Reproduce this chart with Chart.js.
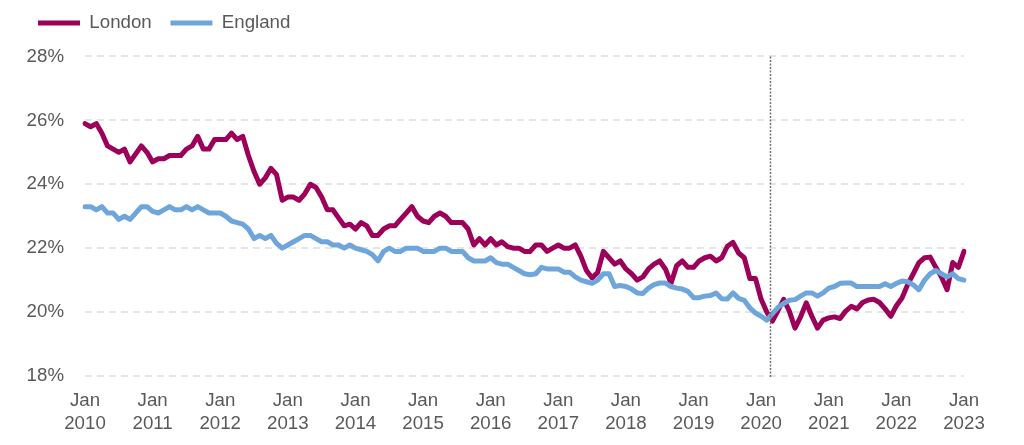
<!DOCTYPE html>
<html>
<head>
<meta charset="utf-8">
<script src="https://cdn.jsdelivr.net/npm/chart.js@4"></script>
<style>
  html, body { margin: 0; padding: 0; background: #ffffff; }
  #c { display: block; }
</style>
</head>
<body>
<canvas id="c" width="1024" height="445" style="width:1024px;height:445px"></canvas>
<script>
// ---- Data ----
const years = [2010, 2011, 2012, 2013, 2014, 2015, 2016, 2017, 2018, 2019, 2020, 2021, 2022, 2023];
const months = ['Jan','Feb','Mar','Apr','May','Jun','Jul','Aug','Sep','Oct','Nov','Dec'];

const london = [
  25.9, 25.8, 25.9, 25.6, 25.2, 25.1, 25.0, 25.1, 24.7, 24.95, 25.2, 25.0,   // 2010
  24.7, 24.8, 24.8, 24.9, 24.9, 24.9, 25.1, 25.2, 25.5, 25.1, 25.1, 25.4,    // 2011
  25.4, 25.4, 25.6, 25.4, 25.5, 24.9, 24.4, 24.0, 24.2, 24.5, 24.3, 23.5,    // 2012
  23.6, 23.6, 23.5, 23.7, 24.0, 23.9, 23.6, 23.2, 23.2, 22.95, 22.7, 22.75,  // 2013
  22.6, 22.8, 22.7, 22.4, 22.4, 22.6, 22.7, 22.7, 22.9, 23.1, 23.3, 23.0,    // 2014
  22.85, 22.8, 23.0, 23.1, 23.0, 22.8, 22.8, 22.8, 22.6, 22.1, 22.3, 22.1,   // 2015
  22.3, 22.1, 22.2, 22.05, 22.0, 22.0, 21.9, 21.9, 22.1, 22.1, 21.9, 22.0,   // 2016
  22.1, 22.0, 22.0, 22.1, 21.75, 21.3, 21.07, 21.25, 21.9, 21.7, 21.5, 21.6, // 2017
  21.35, 21.2, 21.0, 21.1, 21.35, 21.5, 21.6, 21.35, 20.9, 21.45, 21.6, 21.4,// 2018
  21.4, 21.6, 21.7, 21.75, 21.6, 21.7, 22.06, 22.18, 21.85, 21.7, 21.05, 21.05, // 2019
  20.4, 20.0, 19.72, 20.05, 20.4, 20.03, 19.5, 19.85, 20.29, 19.87, 19.5, 19.75, // 2020
  19.82, 19.85, 19.8, 20.03, 20.18, 20.1, 20.3, 20.38, 20.4, 20.3, 20.1, 19.87,  // 2021
  20.2, 20.44, 20.86, 21.2, 21.55, 21.7, 21.72, 21.4, 21.1, 20.7, 21.55, 21.4,   // 2022
  21.9                                                                          // 2023
];

const england = [
  23.3, 23.3, 23.2, 23.3, 23.1, 23.1, 22.9, 23.0, 22.9, 23.1, 23.3, 23.3,    // 2010
  23.15, 23.1, 23.2, 23.3, 23.2, 23.2, 23.3, 23.2, 23.3, 23.2, 23.1, 23.1,   // 2011
  23.1, 23.0, 22.85, 22.8, 22.75, 22.6, 22.3, 22.4, 22.3, 22.4, 22.15, 22.0, // 2012
  22.1, 22.2, 22.3, 22.4, 22.4, 22.3, 22.2, 22.2, 22.1, 22.1, 22.0, 22.1,    // 2013
  22.0, 21.95, 21.9, 21.8, 21.6, 21.9, 22.0, 21.9, 21.9, 22.0, 22.0, 22.0,   // 2014
  21.9, 21.9, 21.9, 22.0, 22.0, 21.9, 21.9, 21.9, 21.7, 21.6, 21.6, 21.6,    // 2015
  21.7, 21.55, 21.5, 21.5, 21.4, 21.3, 21.2, 21.17, 21.2, 21.4, 21.35, 21.35,// 2016
  21.35, 21.25, 21.25, 21.1, 21.0, 20.95, 20.9, 21.0, 21.2, 21.2, 20.8, 20.83, // 2017
  20.8, 20.72, 20.6, 20.58, 20.75, 20.86, 20.91, 20.91, 20.8, 20.75, 20.72, 20.65, // 2018
  20.45, 20.45, 20.5, 20.52, 20.6, 20.42, 20.41, 20.6, 20.43, 20.37, 20.13, 19.97, // 2019
  19.87, 19.75, 19.95, 20.15, 20.27, 20.37, 20.39, 20.5, 20.6, 20.6, 20.5, 20.6,   // 2020
  20.75, 20.8, 20.9, 20.91, 20.91, 20.8, 20.8, 20.8, 20.8, 20.8, 20.89, 20.8,      // 2021
  20.9, 20.97, 20.95, 20.85, 20.7, 21.0, 21.2, 21.3, 21.2, 21.1, 21.2, 21.05,      // 2022
  21.0                                                                              // 2023
];

const yTicks = [18, 20, 22, 24, 26, 28];
const markerIndex = 121.5; // dotted vertical marker (early 2020)

// Category labels: one per month, Jan 2010 .. Jan 2023
const labels = [];
years.forEach((y, yi) => {
  months.forEach((m) => {
    if (yi < years.length - 1 || m === 'Jan') labels.push(m + ' ' + y);
  });
});

const FONT = '"Liberation Sans", Arial, sans-serif';
const TXT = '#595959';

const markerPlugin = {
  id: 'marker',
  afterDatasetsDraw(chart) {
    const {ctx, chartArea, scales} = chart;
    const x = Math.round(scales.x.getPixelForValue(markerIndex)) + 0.5;
    ctx.save();
    ctx.strokeStyle = '#6f6f6f';
    ctx.lineWidth = 1.5;
    ctx.setLineDash([2, 1.5]);
    ctx.beginPath();
    ctx.moveTo(x, chartArea.top);
    ctx.lineTo(x, chartArea.bottom + 1);
    ctx.stroke();
    ctx.restore();
  }
};

new Chart(document.getElementById('c'), {
  type: 'line',
  data: {
    labels: labels,
    datasets: [
      {
        label: 'London',
        data: london,
        borderColor: '#9c0059',
        backgroundColor: '#9c0059',
        borderWidth: 5,
        pointRadius: 0,
        tension: 0,
        borderCapStyle: 'round',
        borderJoinStyle: 'round',
        pointStyle: 'line',
        order: 1
      },
      {
        label: 'England',
        data: england,
        borderColor: '#6ea6dc',
        backgroundColor: '#6ea6dc',
        borderWidth: 5,
        pointRadius: 0,
        tension: 0,
        borderCapStyle: 'round',
        borderJoinStyle: 'round',
        pointStyle: 'line',
        order: 0
      }
    ]
  },
  options: {
    responsive: false,
    animation: false,
    devicePixelRatio: 1,
    layout: { padding: { top: -5, left: 19.25, right: 60, bottom: 0 } },
    plugins: {
      tooltip: { enabled: false },
      legend: {
        position: 'top',
        align: 'start',
        labels: {
          usePointStyle: true,
          pointStyleWidth: 42,
          padding: 18.75,
          color: TXT,
          font: { family: FONT, size: 18.7 },
          sort: (a, b) => a.datasetIndex - b.datasetIndex
        }
      }
    },
    scales: {
      x2: {
        type: 'category',
        position: 'top',
        display: true,
        grid: { display: false, drawTicks: false },
        border: { display: false },
        ticks: { display: false },
        afterFit(axis) { axis.height = 14; }
      },
      x: {
        type: 'category',
        offset: false,
        grid: { display: false, drawTicks: false },
        border: { display: false },
        ticks: {
          autoSkip: false,
          maxRotation: 0,
          minRotation: 0,
          padding: 14,
          color: TXT,
          font: { family: FONT, size: 18.7 },
          callback: function (value, index) {
            const lab = labels[index];
            if (lab && lab.startsWith('Jan')) return lab.split(' ');
            return null;
          }
        },
        afterFit(axis) { axis.height = 69; }
      },
      y: {
        min: 18,
        max: 28,
        afterBuildTicks(axis) { axis.ticks = yTicks.map(v => ({ value: v })); },
        grid: {
          color: '#e6e6e6',
          lineWidth: 2,
          drawTicks: false
        },
        border: { display: false, dash: [7, 5] },
        ticks: {
          padding: 21,
          color: TXT,
          font: { family: FONT, size: 18.7 },
          callback: (v) => v + '%'
        },
        afterFit(axis) { axis.width = 65.75; }
      }
    }
  },
  plugins: [markerPlugin]
});
</script>
</body>
</html>
